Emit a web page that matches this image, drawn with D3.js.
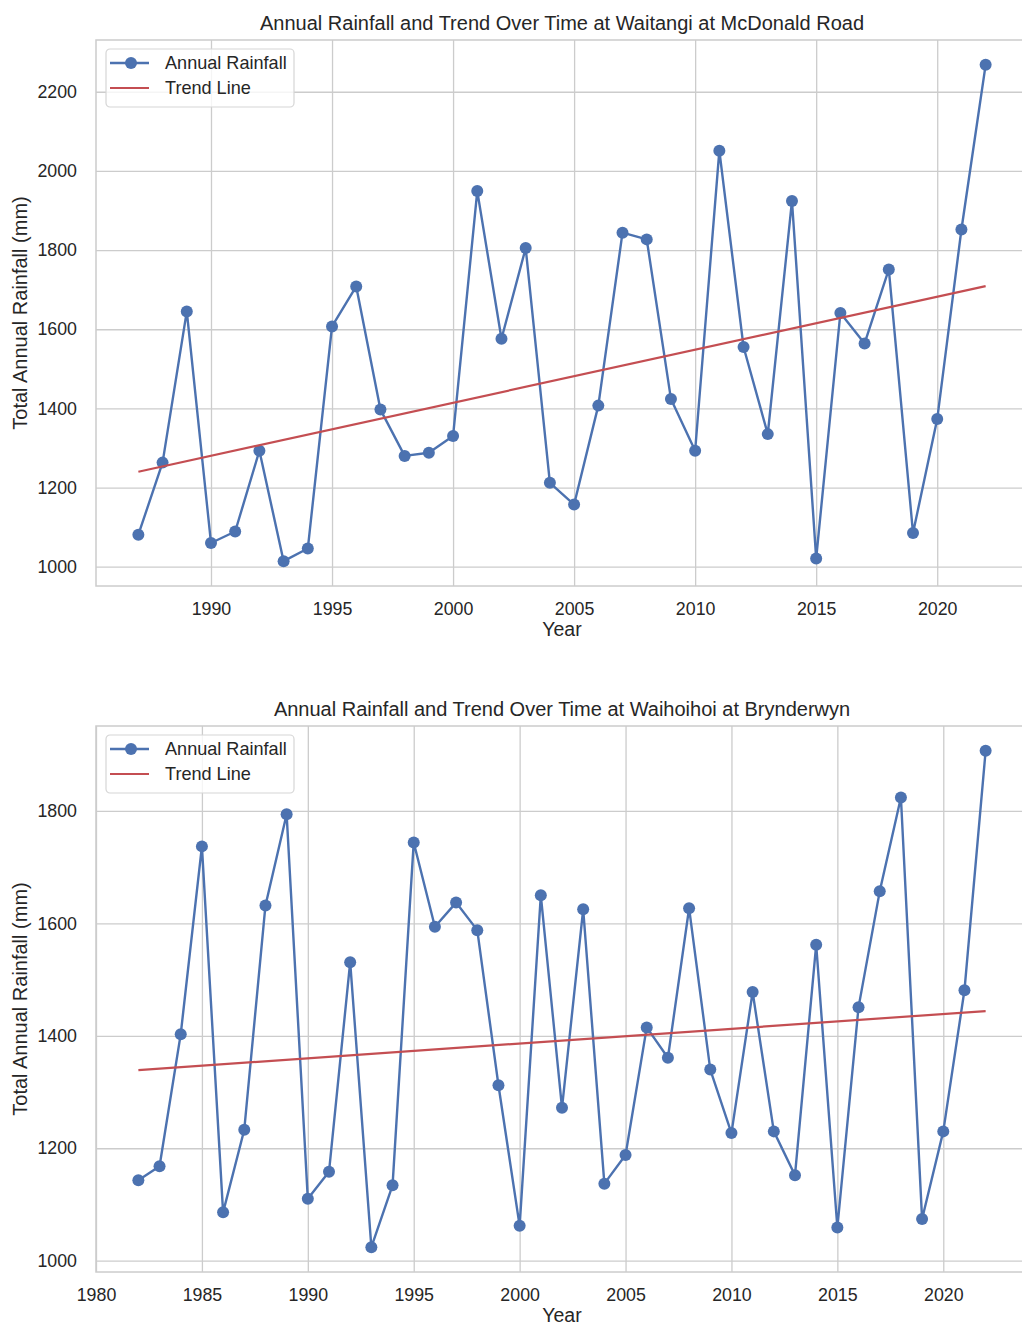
<!DOCTYPE html>
<html>
<head>
<meta charset="utf-8">
<script src="https://cdn.jsdelivr.net/npm/d3@7"></script>
<style>
  body { margin: 0; background: #fff; }
  svg { display: block; font-family: "Liberation Sans", Arial, sans-serif; }
</style>
</head>
<body>
<div id="chart"></div>
<script>
// Waitangi at McDonald Road, annual totals (mm)
const yearsWaitangi = d3.range(1987, 2023);
const rainWaitangi = [
  1081, 1263, 1645, 1060, 1089, 1293, 1014, 1046, 1607, 1708,
  1397, 1280, 1288, 1330, 1949, 1576, 1805, 1212, 1157, 1407,
  1844, 1827, 1424, 1293, 2051, 1555, 1335, 1924, 1021, 1641,
  1564, 1751, 1085, 1373, 1852, 2268
];
const trendYearsWaitangi = [1987, 2022];
const trendWaitangi = [1240, 1709];
const yTicksWaitangi = [1000, 1200, 1400, 1600, 1800, 2000, 2200];
const xTicksWaitangi = [1990, 1995, 2000, 2005, 2010, 2015, 2020];

// Waihoihoi at Brynderwyn, annual totals (mm)
const yearsWaihoihoi = d3.range(1982, 2023);
const rainWaihoihoi = [
  1143, 1168, 1403, 1737, 1086, 1233, 1632, 1794, 1110, 1158,
  1531, 1024, 1134, 1744, 1594, 1637, 1588, 1312, 1062, 1650,
  1272, 1625, 1137, 1188, 1415, 1361, 1627, 1340, 1227, 1478,
  1230, 1152, 1562, 1059, 1451, 1657, 1824, 1074, 1230, 1481,
  1907
];
const trendYearsWaihoihoi = [1982, 2022];
const trendWaihoihoi = [1339, 1444];
const yTicksWaihoihoi = [1000, 1200, 1400, 1600, 1800];
const xTicksWaihoihoi = [1980, 1985, 1990, 1995, 2000, 2005, 2010, 2015, 2020];

const legendLabels = ["Annual Rainfall", "Trend Line"];

const W = 1022, H = 1326;
const blue = "#4c72b0", red = "#c44e52", grid = "#cccccc", ink = "#262626";

const svg = d3.select("#chart").append("svg")
  .attr("width", W)
  .attr("height", H);

function pad(ext, frac) {
  const span = ext[1] - ext[0];
  return [ext[0] - span * frac, ext[1] + span * frac];
}

function drawPanel({ top, bottom, title, years, rain, trendYears, trend, xTicks, yTicks }) {
  const left = 96, right = 1028;
  const g = svg.append("g");

  const x = d3.scaleLinear().domain(pad(d3.extent(years), 0.05)).range([left, right]);
  const y = d3.scaleLinear().domain(pad(d3.extent(rain), 0.05)).range([bottom, top]);

  // grid via axes
  g.append("g")
    .attr("transform", `translate(0,${bottom})`)
    .call(d3.axisBottom(x).tickValues(xTicks).tickFormat(d3.format("d"))
      .tickSize(-(bottom - top)).tickPadding(16))
    .call(a => a.select(".domain").remove())
    .call(a => a.selectAll("line").attr("stroke", grid).attr("stroke-width", 1.3))
    .call(a => a.selectAll("text").attr("fill", ink).attr("font-size", 17.8));

  g.append("g")
    .attr("transform", `translate(${left},0)`)
    .call(d3.axisLeft(y).tickValues(yTicks).tickFormat(d3.format("d"))
      .tickSize(-(right - left)).tickPadding(19))
    .call(a => a.select(".domain").remove())
    .call(a => a.selectAll("line").attr("stroke", grid).attr("stroke-width", 1.3))
    .call(a => a.selectAll("text").attr("fill", ink).attr("font-size", 17.8));

  // frame
  g.append("rect")
    .attr("x", left).attr("y", top)
    .attr("width", right - left).attr("height", bottom - top)
    .attr("fill", "none").attr("stroke", grid).attr("stroke-width", 1.5);

  const pts = years.map((yr, i) => [yr, rain[i]]);
  const line = d3.line().x(d => x(d[0])).y(d => y(d[1]));

  g.append("path")
    .datum(pts)
    .attr("d", line)
    .attr("fill", "none")
    .attr("stroke", blue)
    .attr("stroke-width", 2.4)
    .attr("stroke-linejoin", "round");

  g.selectAll("circle.pt")
    .data(pts)
    .enter().append("circle")
    .attr("class", "pt")
    .attr("cx", d => x(d[0]))
    .attr("cy", d => y(d[1]))
    .attr("r", 6)
    .attr("fill", blue);

  g.append("path")
    .datum(trendYears.map((yr, i) => [yr, trend[i]]))
    .attr("d", line)
    .attr("fill", "none")
    .attr("stroke", red)
    .attr("stroke-width", 2.2);

  // title + axis labels
  g.append("text")
    .attr("x", (left + right) / 2)
    .attr("y", top - 10)
    .attr("text-anchor", "middle")
    .attr("font-size", 20)
    .attr("fill", ink)
    .text(title);

  g.append("text")
    .attr("x", (left + right) / 2)
    .attr("y", bottom + 50)
    .attr("text-anchor", "middle")
    .attr("font-size", 19.5)
    .attr("fill", ink)
    .text("Year");

  g.append("text")
    .attr("transform", `translate(27,${(top + bottom) / 2}) rotate(-90)`)
    .attr("text-anchor", "middle")
    .attr("font-size", 20)
    .attr("fill", ink)
    .text("Total Annual Rainfall (mm)");

  // legend
  const lg = g.append("g").attr("transform", `translate(106,${top + 9})`);
  lg.append("rect")
    .attr("width", 188).attr("height", 58)
    .attr("rx", 4)
    .attr("fill", "#fff").attr("fill-opacity", 0.8)
    .attr("stroke", "#d6d6d6").attr("stroke-width", 1.2);

  lg.append("line")
    .attr("x1", 4).attr("x2", 43).attr("y1", 14).attr("y2", 14)
    .attr("stroke", blue).attr("stroke-width", 2.4);
  lg.append("circle").attr("cx", 25).attr("cy", 14).attr("r", 6).attr("fill", blue);
  lg.append("line")
    .attr("x1", 4).attr("x2", 43).attr("y1", 39).attr("y2", 39)
    .attr("stroke", red).attr("stroke-width", 2.2);

  lg.selectAll("text.lbl")
    .data(legendLabels)
    .enter().append("text")
    .attr("class", "lbl")
    .attr("x", 59)
    .attr("y", (d, i) => 14 + i * 25)
    .attr("dy", "0.35em")
    .attr("font-size", 18.1)
    .attr("fill", ink)
    .text(d => d);
}

drawPanel({
  top: 40, bottom: 586,
  title: "Annual Rainfall and Trend Over Time at Waitangi at McDonald Road",
  years: yearsWaitangi, rain: rainWaitangi,
  trendYears: trendYearsWaitangi, trend: trendWaitangi,
  xTicks: xTicksWaitangi, yTicks: yTicksWaitangi
});

drawPanel({
  top: 726, bottom: 1272,
  title: "Annual Rainfall and Trend Over Time at Waihoihoi at Brynderwyn",
  years: yearsWaihoihoi, rain: rainWaihoihoi,
  trendYears: trendYearsWaihoihoi, trend: trendWaihoihoi,
  xTicks: xTicksWaihoihoi, yTicks: yTicksWaihoihoi
});
</script>
</body>
</html>
